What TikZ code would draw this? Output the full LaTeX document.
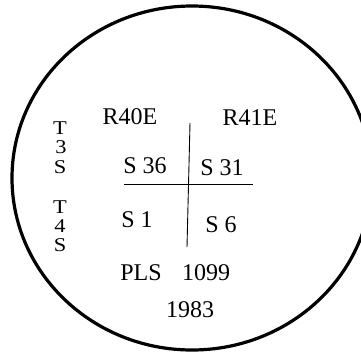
\documentclass[tikz,border=0pt]{standalone}
\usepackage{fontspec}
\setmainfont{Liberation Serif}
\begin{document}
\begin{tikzpicture}[x=1pt,y=-1pt,
  lbl/.style={inner sep=0pt,anchor=base,font=\fontsize{24}{24}\selectfont},
  side/.style={inner sep=0pt,anchor=base,xscale=1.15,font=\fontsize{19.5}{19.5}\selectfont},
  rim/.style={line width=3.2pt},
  grid/.style={line width=0.9pt}]
\useasboundingbox (0,0) rectangle (361,351);
\clip (0,0) rectangle (361,351);
\draw[rim] (192,178) ellipse [x radius=180, y radius=172];
\node[lbl] (r40) at (130,124) {R40E};
\node[lbl] (r41) at (250,125) {R41E};
\node[side] (t1) at (60,134) {T};
\node[side] (n3) at (61,153) {3};
\node[side] (s1) at (60,173) {S};
\node[side] (t2) at (60,213) {T};
\node[side] (n4) at (60,232) {4};
\node[side] (s2) at (60,251) {S};
\node[lbl] (s36) at (145,173) {S 36};
\node[lbl] (s31) at (222,175) {S 31};
\node[lbl] (sone) at (137,227) {S 1};
\node[lbl] (ssix) at (221,232) {S 6};
\node[lbl] (pls) at (141,280) {PLS};
\node[lbl] (num) at (206,280) {1099};
\node[lbl] (yr) at (190,317) {1983};
\coordinate (vt) at (190,123);
\coordinate (vb) at (187,247);
\coordinate (hl) at (124,184);
\coordinate (hr) at (253,184);
\draw[grid] (vt) -- (vb);
\draw[grid] (hl) -- (hr);
\end{tikzpicture}
\end{document}
